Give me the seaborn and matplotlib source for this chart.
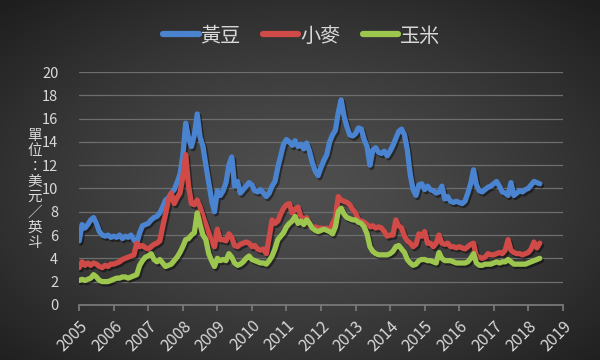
import numpy as np
import pandas as pd
import seaborn as sns
import matplotlib.pyplot as plt
import matplotlib.patheffects as pe

# monthly prices, Jan 2005 - May 2018 (USD per bushel)
soybean = [
    5.5, 6.9, 6.6, 6.9, 7.3, 7.5, 7.0, 6.3, 6.0, 5.9, 6.0, 5.8,        # 2005
    5.9, 5.8, 6.0, 5.7, 5.9, 5.8, 6.0, 5.6, 5.3, 6.2, 6.8, 6.9,        # 2006
    7.0, 7.3, 7.5, 7.6, 7.9, 8.4, 9.0, 9.2, 9.6, 9.9, 10.5, 11.2,      # 2007
    12.8, 15.6, 14.3, 13.6, 14.6, 16.4, 14.4, 13.6, 12.0, 10.5, 9.0, 8.0,  # 2008
    9.8, 9.4, 9.8, 10.5, 12.0, 12.7, 10.2, 10.6, 9.6, 9.9, 10.2, 10.5,  # 2009
    10.3, 9.8, 9.7, 9.9, 9.6, 9.3, 9.6, 10.2, 10.6, 11.8, 12.8, 13.8,  # 2010
    14.2, 14.0, 13.7, 14.1, 13.6, 13.8, 13.4, 13.9, 13.2, 12.2, 11.5, 11.1,  # 2011
    11.8, 12.4, 12.9, 14.0, 14.6, 15.0, 16.5, 17.6, 16.2, 15.3, 14.6, 14.5,  # 2012
    14.7, 15.2, 15.1, 14.2, 13.6, 12.0, 13.3, 13.5, 13.1, 13.0, 13.2, 12.8,  # 2013
    13.2, 13.7, 14.3, 14.9, 15.1, 14.6, 13.3, 11.2, 9.9, 9.4, 10.3, 10.4,  # 2014
    9.9, 10.2, 9.9, 9.8, 9.6, 9.7, 10.2, 9.1, 9.3, 8.9, 8.8, 8.9,      # 2015
    8.8, 8.7, 8.9, 9.6, 10.4, 11.6, 10.3, 9.8, 9.7, 9.9, 10.1, 10.2,   # 2016
    10.4, 10.6, 10.2, 9.7, 9.6, 9.4, 10.5, 9.4, 9.6, 9.8, 9.7, 9.9,    # 2017
    10.0, 10.3, 10.6, 10.5, 10.4,                                      # 2018
]
wheat = [
    3.2, 3.7, 3.4, 3.6, 3.4, 3.6, 3.5, 3.3, 3.2, 3.4, 3.3, 3.5,
    3.5, 3.6, 3.7, 3.9, 4.0, 4.1, 4.2, 4.3, 5.3, 5.0, 5.1, 4.9,
    4.8, 5.0, 5.2, 5.3, 5.5, 6.7, 7.8, 9.0, 9.6, 8.7, 9.2, 9.6,
    11.0, 12.9, 10.2, 8.7, 8.6, 9.0, 8.4, 7.6, 6.9, 6.2, 5.4, 5.0,
    6.5, 5.6, 5.6, 5.5, 6.1, 5.8, 5.1, 5.0, 5.2, 5.3, 5.4, 5.3,
    5.0, 5.1, 4.8, 4.7, 4.8, 4.4, 5.8, 7.3, 7.0, 7.2, 7.8, 8.3,
    8.6, 8.7, 7.9, 8.2, 8.4, 7.6, 7.3, 7.5, 7.0, 6.6, 6.7, 6.6,
    6.6, 6.5, 6.6, 6.4, 7.0, 7.5, 9.3, 9.0, 8.9, 8.8, 8.6, 8.2,
    7.9, 7.3, 7.2, 7.1, 6.9, 6.7, 6.8, 6.6, 6.7, 6.6, 6.3, 5.9,
    6.0, 6.0, 7.3, 6.8, 6.6, 5.9, 5.5, 5.3, 5.0, 5.2, 6.1, 5.9,
    6.3, 5.3, 5.3, 5.0, 5.3, 6.0, 5.3, 5.2, 5.3, 5.0, 5.0, 4.9,
    5.0, 4.9, 4.8, 5.0, 5.2, 5.3, 4.1, 4.1, 4.0, 4.1, 4.4, 4.3,
    4.3, 4.4, 4.5, 4.4, 4.7, 5.6, 4.7, 4.5, 4.4, 4.4, 4.3, 4.4,
    4.5, 4.8, 5.4, 4.9, 5.3,
]
corn = [
    2.1, 2.2, 2.1, 2.2, 2.3, 2.6, 2.4, 2.1, 2.0, 2.0, 2.0, 2.1,
    2.2, 2.3, 2.3, 2.4, 2.4, 2.3, 2.4, 2.5, 2.6, 3.4, 3.8, 4.1,
    4.2, 4.4, 3.9, 3.7, 3.9, 3.6, 3.3, 3.4, 3.5, 3.8, 4.1, 4.5,
    5.0, 5.6, 5.7, 6.0, 6.2, 7.9, 6.9, 6.0, 5.6, 4.4, 3.8, 3.3,
    4.0, 3.8, 3.9, 3.8, 4.4, 4.1, 3.6, 3.4, 3.5, 3.7, 4.0, 4.2,
    3.9, 3.8, 3.7, 3.6, 3.6, 3.5, 3.8, 4.2, 4.8, 5.6, 5.9, 6.2,
    6.7, 7.0, 7.2, 7.6, 7.0, 7.2, 6.9, 7.3, 7.0, 6.6, 6.4, 6.3,
    6.4, 6.5, 6.4, 6.3, 6.1, 6.7, 8.0, 8.3, 7.8, 7.5, 7.4, 7.3,
    7.3, 7.1, 7.0, 6.7, 6.1, 5.0, 4.6, 4.4, 4.3, 4.3, 4.3, 4.3,
    4.4, 4.6, 5.0, 5.1, 4.8, 4.5, 3.9, 3.6, 3.4, 3.5, 3.8, 3.9,
    3.9, 3.8, 3.8, 3.7, 3.6, 4.5, 4.0, 3.8, 3.8, 3.8, 3.7, 3.6,
    3.6, 3.6, 3.6, 3.7, 4.0, 4.4, 3.6, 3.4, 3.4, 3.5, 3.5, 3.5,
    3.6, 3.7, 3.6, 3.7, 3.7, 3.9, 3.7, 3.5, 3.5, 3.5, 3.5, 3.5,
    3.6, 3.7, 3.8, 3.9, 4.0,
]
names = ['黃豆', '小麥', '玉米']
colors = ['#4a83cf', '#d04a47', '#9dc64f']
years = list(range(2005, 2020))
yticks = list(range(0, 21, 2))
ylabel = '單位：美元／英斗'

t = 2005 + np.arange(len(soybean)) / 12
df = pd.DataFrame({'t': t, names[0]: soybean, names[1]: wheat, names[2]: corn})
df = df.melt(id_vars='t', var_name='item', value_name='price')

sns.set_theme(style='dark')
plt.rcParams['font.family'] = ['Noto Sans CJK TC', 'DejaVu Sans']
txt = '#d9d9d9'

fig = plt.figure(figsize=(6, 3.6), dpi=100)

# radial dark gradient background
bg = fig.add_axes([0, 0, 1, 1], zorder=-10)
gx, gy = np.meshgrid(np.linspace(-1, 1, 300), np.linspace(-1, 1, 180))
r = np.sqrt(gx ** 2 + (gy - 0.05) ** 2) / np.sqrt(2)
shade = 0.31 - 0.19 * np.clip(r, 0, 1) ** 1.3
bg.imshow(np.dstack([shade] * 3), aspect='auto', extent=[0, 1, 0, 1])
bg.axis('off')

ax = fig.add_axes([0.132, 0.153, 0.806, 0.647])
ax.patch.set_alpha(0)

sns.lineplot(data=df, x='t', y='price', hue='item', palette=colors,
             linewidth=3.8, ax=ax, legend=False)
for ln in ax.get_lines():
    ln.set_solid_capstyle('round')
    ln.set_solid_joinstyle('round')
    ln.set_path_effects([pe.SimpleLineShadow(offset=(1.2, -1.5), shadow_color='black', alpha=0.45),
                         pe.Normal()])

ax.set_xlim(2005, 2019)
ax.set_ylim(0, 20)
ax.set_xticks(years)
ax.set_xticklabels([str(y) for y in years], rotation=45, ha='right',
                   rotation_mode='anchor', color=txt, fontsize=11.5)
ax.set_yticks(yticks)
ax.set_yticklabels([str(v) for v in yticks], color=txt, fontsize=10.5)
ax.set_xlabel('')
ax.set_ylabel('')
ax.grid(axis='y', color='#6e6e6e', linewidth=0.9)
ax.grid(axis='x', visible=False)
for s in ['top', 'right', 'left']:
    ax.spines[s].set_visible(False)
ax.spines['bottom'].set_color('#7a7a7a')
ax.tick_params(axis='x', bottom=True, length=4, color='#7a7a7a', pad=5)
ax.tick_params(axis='y', left=False, pad=9)

# vertical stacked axis title, one character per line
for i, ch in enumerate(ylabel):
    fig.text(0.058, 0.622 - i * 0.0425, ch, ha='center', va='center',
             color=txt, fontsize=10.5)

handles = [plt.Line2D([], [], color=c, linewidth=4.5, solid_capstyle='round') for c in colors]
leg = fig.legend(handles, names, loc='center', bbox_to_anchor=(0.503, 0.9), ncol=3,
                 frameon=False, fontsize=14.5, handlelength=1.75, handletextpad=0.1,
                 columnspacing=1.1)
for tx in leg.get_texts():
    tx.set_color(txt)

fig.savefig('out.png', dpi=100)
